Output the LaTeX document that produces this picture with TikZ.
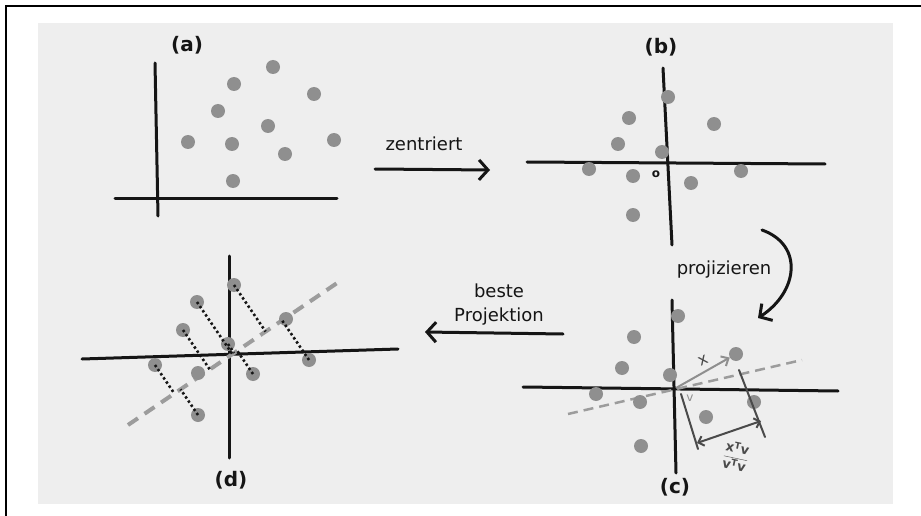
\documentclass[tikz,border=0pt]{standalone}
\usepackage{fontspec}
\setmainfont{DejaVu Sans}
\usetikzlibrary{arrows.meta, calc}
\definecolor{cpaper}{HTML}{EEEEEE}
\definecolor{cdot}{HTML}{8F8F8F}
\definecolor{cguide}{HTML}{9C9C9C}
\definecolor{cink}{HTML}{151515}
\definecolor{cpen}{HTML}{4A4A4A}
\tikzset{
  dot/.style={circle, fill=cdot, inner sep=0pt, minimum size=14pt},
  axis/.style={draw=cink, line width=3pt, line cap=round},
  arrow/.style={-{Straight Barb[length=9pt, width=20pt, line width=3pt]}, draw=cink, line width=3pt, line cap=round},
  panel/.style={font=\fontsize{20}{24}\selectfont\bfseries, text=cink},
  note/.style={font=\fontsize{18}{24}\selectfont, text=cink, align=center},
  guide/.style={draw=cguide, line width=#1, dash pattern=on 10pt off 6pt},
  guide/.default=2.5pt,
  proj/.style={draw=cink, line width=2.6pt, dash pattern=on 2.4pt off 2.6pt},
  perp/.style={draw=cpen, line width=2pt, line cap=round},
}

\begin{document}
\begin{tikzpicture}[x=1pt, y=-1pt]
  \useasboundingbox (0,0) rectangle (921,516);
  \draw[line width=2pt] (6,516) -- (6,6) -- (921,6);
  \fill[cpaper] (38,23) rectangle (893,504);
  % (a) raw data
  \node[panel] (la) at (187,45) {(a)};
  \draw[axis] (155,63) -- (158,216);
  \draw[axis] (115,198) -- (337,198);
  \node[dot] (a1) at (273,67) {}; \node[dot] (a2) at (234,84) {}; \node[dot] (a3) at (314,94) {};
  \node[dot] (a4) at (218,111) {}; \node[dot] (a5) at (268,126) {}; \node[dot] (a6) at (188,142) {};
  \node[dot] (a7) at (232,144) {}; \node[dot] (a8) at (334,140) {}; \node[dot] (a9) at (285,154) {};
  \node[dot] (a10) at (233,181) {};
  \node[note] (zen) at (424,144) {zentriert};
  \coordinate (z0) at (375,169); \coordinate (z1) at (490,170);
  \draw[arrow] (z0) -- (z1);
  % (b) centred
  \node[panel] (lb) at (661,47) {(b)};
  \draw[axis] (663,68) -- (672,245);
  \draw[axis] (527,162) -- (825,164);
  \node[font=\fontsize{12}{12}\selectfont\bfseries, text=cink] (ob) at (656,174) {o};
  \node[dot] (b1) at (668,97) {}; \node[dot] (b2) at (629,118) {}; \node[dot] (b3) at (714,124) {};
  \node[dot] (b4) at (618,144) {}; \node[dot] (b5) at (662,152) {}; \node[dot] (b6) at (589,169) {};
  \node[dot] (b7) at (633,176) {}; \node[dot] (b8) at (691,183) {}; \node[dot] (b9) at (741,171) {};
  \node[dot] (b10) at (633,215) {};
  \node[note] (proz) at (724,270) {projizieren};
  \coordinate (p0) at (762,230); \coordinate (p1) at (758,318);
  \draw[arrow] (p0) .. controls (804,245) and (798,292) .. (p1);
  % (c) projection onto v
  \node[panel] (lc) at (675,487) {(c)};
  \draw[axis] (672,300) -- (676,473);
  \draw[axis] (523,387) -- (838,391);
  \coordinate (oc) at (676,388);
  \coordinate (cg1) at (568,414); \coordinate (cg2) at (802,360);
  \draw[guide] (cg1) -- (cg2);
  \node[dot] (c1) at (678,316) {}; \node[dot] (c2) at (634,337) {}; \node[dot] (c3) at (736,354) {};
  \node[dot] (c4) at (622,368) {}; \node[dot] (c5) at (670,375) {}; \node[dot] (c6) at (596,394) {};
  \node[dot] (c7) at (640,402) {}; \node[dot] (c8) at (706,417) {}; \node[dot] (c9) at (754,402) {};
  \node[dot] (c10) at (641,446) {};
  \draw[-{Straight Barb[length=6pt, width=11pt]}, draw=cdot, line width=2pt] (oc) -- (c3);
  \node[text=cpen, font=\fontsize{16}{18}\selectfont, rotate=25] (lx) at (703,361) {x};
  \node[text=cdot, font=\fontsize{12}{14}\selectfont] (lv) at (690,398) {v};
  \coordinate (q0) at (681,394); \coordinate (q1) at (698,449);
  \coordinate (r0) at (739,370); \coordinate (r1) at (765,437);
  \draw[perp] (q0) -- (q1);
  \draw[perp] (r0) -- (r1);
  \coordinate (m0) at (697,443); \coordinate (m1) at (761,421);
  \draw[perp, {Straight Barb[length=5pt, width=10pt]}-{Straight Barb[length=5pt, width=10pt]}] (m0) -- (m1);
  \node[text=cpen, rotate=-12, inner sep=0pt, font=\fontsize{13}{15}\selectfont] (frac) at (736,456) {$\displaystyle\frac{\mathbf{x^{T}v}}{\mathbf{v^{T}v}}$};
  \node[note] (best) at (499,305) {beste\\Projektion};
  \coordinate (k0) at (563,334); \coordinate (k1) at (425,332);
  \draw[arrow] (k0) -- (k1);
  % (d) best projection
  \node[panel] (ld) at (231,480) {(d)};
  \draw[axis] (229,256) -- (229,458);
  \draw[axis] (82,359) -- (398,349);
  \coordinate (dg1) at (128,425); \coordinate (dg2) at (343,279);
  \draw[guide=4pt, dash pattern=on 12pt off 8pt] (dg1) -- (dg2);
  \node[dot] (d1) at (234,285) {}; \node[dot] (d2) at (197,302) {}; \node[dot] (d3) at (286,319) {};
  \node[dot] (d4) at (183,330) {}; \node[dot] (d5) at (228,344) {}; \node[dot] (d6) at (309,360) {};
  \node[dot] (d7) at (155,365) {}; \node[dot] (d8) at (198,373) {}; \node[dot] (d9) at (253,374) {};
  \node[dot] (d10) at (198,415) {};
  \draw[proj] (d1.center) -- ($(dg1)!(d1.center)!(dg2)$); \draw[proj] (d2.center) -- ($(dg1)!(d2.center)!(dg2)$);
  \draw[proj] (d4.center) -- ($(dg1)!(d4.center)!(dg2)$); \draw[proj] (d5.center) -- ($(dg1)!(d5.center)!(dg2)$);
  \draw[proj] (d6.center) -- ($(dg1)!(d6.center)!(dg2)$); \draw[proj] (d7.center) -- ($(dg1)!(d7.center)!(dg2)$);
  \draw[proj] (d9.center) -- ($(dg1)!(d9.center)!(dg2)$); \draw[proj] (d10.center) -- ($(dg1)!(d10.center)!(dg2)$);
\end{tikzpicture}
\end{document}
